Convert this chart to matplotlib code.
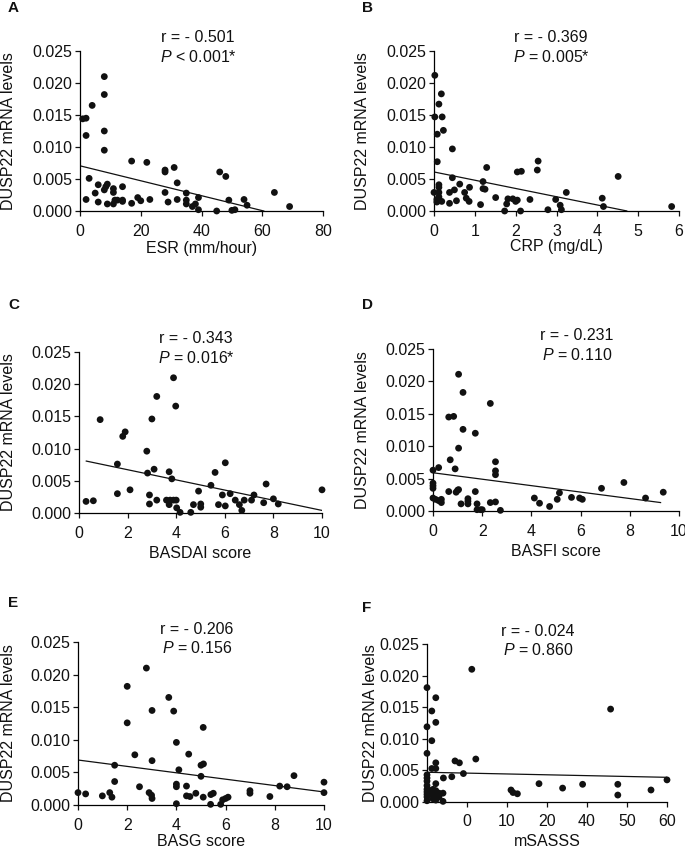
import matplotlib
matplotlib.use("Agg")
import matplotlib.pyplot as plt
import numpy as np

plt.rcParams['font.family'] = ['Liberation Sans', 'DejaVu Sans']
plt.rcParams['mathtext.fontset'] = 'custom'
plt.rcParams['mathtext.it'] = 'Liberation Sans:italic'
plt.rcParams['mathtext.rm'] = 'Liberation Sans'

# ---------------- data ----------------
esr_x = [0.9, 2, 2, 4, 8, 8, 8, 8, 2, 3, 5, 6, 6, 8, 8.5, 9, 9, 11, 11, 11, 11.5, 12.3,
         14, 14, 14, 17, 17, 19, 20, 22, 23, 28, 28, 28, 29, 31, 32, 32, 35, 35, 35, 37,
         38, 39, 39, 45, 46, 48, 49, 50, 51, 54, 55, 64, 69]
esr_y = [0.0144, 0.0145, 0.0118, 0.0165, 0.0210, 0.0182, 0.0125, 0.0095, 0.0018, 0.0051,
         0.0028, 0.0041, 0.0014, 0.0033, 0.0038, 0.0042, 0.0011, 0.0035, 0.0029, 0.0011,
         0.0017, 0.0017, 0.0038, 0.0017, 0.0015, 0.0012, 0.0078, 0.0021, 0.0016, 0.0076,
         0.0018, 0.0064, 0.0061, 0.0029, 0.0014, 0.0068, 0.0044, 0.0018, 0.0028, 0.0017,
         0.0011, 0.0007, 0.0011, 0.0021, 0.0002, 0.0000, 0.0061, 0.0054, 0.0017, 0.0001,
         0.0002, 0.0018, 0.0009, 0.0029, 0.0007]

crp_x = [0.02, 0.18, 0.12, 0.02, 0.2, 0.08, 0.23, 0.45, 0.08, 0.0, 0.12, 0.12, 0.12, 0.07,
         0.07, 0.19, 0.12, 0.38, 0.38, 0.45, 0.5, 0.55, 0.63, 0.75, 0.79, 0.86, 0.87, 1.14,
         1.2, 1.2, 1.25, 1.29, 1.51, 1.73, 1.78, 1.81, 1.93, 2.0, 2.04, 2.04, 2.14, 2.12,
         2.35, 2.53, 2.55, 2.79, 2.98, 3.09, 3.12, 3.24, 4.12, 4.15, 4.51, 5.82]
crp_y = [0.0212, 0.0183, 0.0167, 0.0147, 0.0147, 0.0120, 0.0126, 0.0097, 0.0077, 0.0029,
         0.0041, 0.0037, 0.0029, 0.0018, 0.0014, 0.0015, 0.0022, 0.0012, 0.0029, 0.0052,
         0.0033, 0.0016, 0.0042, 0.0029, 0.0020, 0.0015, 0.0037, 0.0010, 0.0046, 0.0035,
         0.0034, 0.0068, 0.0021, 0.0000, 0.0011, 0.0019, 0.0019, 0.0015, 0.0017, 0.0061,
         0.0062, 0.0000, 0.0018, 0.0064, 0.0078, 0.0002, 0.0018, 0.0009, 0.0002, 0.0029,
         0.0020, 0.0007, 0.0054, 0.0007]

basdai_x = [0.29, 0.59, 0.87, 1.58, 1.58, 1.8, 1.9, 2.1, 2.79, 2.82, 2.9, 2.9, 3.0, 3.09,
            3.2, 3.2, 3.6, 3.71, 3.71, 3.75, 3.82, 3.89, 3.89, 3.98, 4.02, 4.0, 4.16, 4.6,
            4.71, 4.92, 5.01, 5.01, 5.43, 5.6, 5.74, 5.9, 6.02, 6.02, 6.22, 6.43, 6.6, 6.7,
            6.8, 7.1, 7.2, 7.6, 7.7, 8.0, 8.2, 10.0]
basdai_y = [0.0018, 0.0019, 0.0145, 0.0030, 0.0076, 0.0119, 0.0126, 0.0036, 0.0096, 0.0062,
            0.0028, 0.0014, 0.0146, 0.0068, 0.0181, 0.0020, 0.0020, 0.0064, 0.0013, 0.0020,
            0.0053, 0.0210, 0.0020, 0.0166, 0.0008, 0.0020, 0.0001, 0.0001, 0.0013, 0.0034,
            0.0014, 0.0009, 0.0043, 0.0063, 0.0013, 0.0028, 0.0078, 0.0011, 0.0030, 0.0020,
            0.0013, 0.0004, 0.0020, 0.0020, 0.0028, 0.0016, 0.0045, 0.0022, 0.0014, 0.0036]

basfi_x = [0.0, 0.0, 0.0, 0.0, 0.0, 0.1, 0.23, 0.23, 0.34, 0.34, 0.64, 0.84, 0.64, 0.7,
           0.9, 0.94, 1.0, 1.04, 1.04, 1.04, 1.14, 1.22, 1.22, 1.42, 1.42, 1.42, 1.72, 1.72,
           1.79, 1.79, 1.93, 2.0, 2.33, 2.33, 2.54, 2.54, 2.54, 2.54, 2.74, 4.12, 4.33, 4.74,
           5.05, 5.14, 5.63, 5.96, 6.07, 6.85, 7.76, 8.64, 9.36]
basfi_y = [0.0063, 0.0043, 0.0039, 0.0035, 0.0020, 0.0018, 0.0067, 0.0016, 0.0018, 0.0013,
           0.0145, 0.0146, 0.0030, 0.0079, 0.0065, 0.0029, 0.0032, 0.0211, 0.0097, 0.0033,
           0.0011, 0.0183, 0.0126, 0.0019, 0.0015, 0.0011, 0.0120, 0.0030, 0.0011, 0.0002,
           0.0002, 0.0002, 0.0166, 0.0013, 0.0076, 0.0062, 0.0056, 0.0014, 0.0001, 0.0020,
           0.0012, 0.0007, 0.0018, 0.0028, 0.0021, 0.0020, 0.0018, 0.0035, 0.0044, 0.0020,
           0.0029]

basg_x = [0.0, 0.31, 0.99, 1.29, 1.38, 1.49, 1.49, 2.0, 2.0, 2.31, 2.5, 2.78, 2.89, 2.99,
          3.01, 3.01, 3.01, 3.69, 3.89, 4.0, 4.0, 4.0, 4.0, 4.1, 4.41, 4.41, 4.55, 4.5, 4.79,
          5.0, 5.0, 5.1, 5.09, 5.09, 5.39, 5.4, 5.5, 5.8, 5.88, 6.0, 6.1, 6.99, 6.99, 7.8,
          8.2, 8.5, 8.78, 10.0, 10.0]
basg_y = [0.0019, 0.0017, 0.0014, 0.0019, 0.0012, 0.0061, 0.0036, 0.0182, 0.0126, 0.0077,
          0.0028, 0.0210, 0.0019, 0.0015, 0.0010, 0.0145, 0.0068, 0.0165, 0.0144, 0.0096,
          0.0032, 0.0028, 0.0002, 0.0054, 0.0029, 0.0014, 0.0013, 0.0078, 0.0018, 0.0044,
          0.0061, 0.0063, 0.0119, 0.0012, 0.0001, 0.0016, 0.0018, 0.0001, 0.0008, 0.0010,
          0.0012, 0.0022, 0.0018, 0.0013, 0.0029, 0.0028, 0.0045, 0.0035, 0.0019]

# mSASSS: x in axis units (tick labels below are printed as in the source figure)
msasss_x = [-10, -7.8, -8.8, -7.8, -10, -8.8, -10, -7.8, -8.8, -7.8, -3.0, -1.9, -0.9,
            -3.8, -5.9, 1.2, 2.2, -10, -10, -10, -10, -10, -10, -10, -10, -10, -9.2, -9.2,
            -8.5, -8.5, -8.5, -7.8, -7.8, -7.8, -7.8, -7.0, -7.0, -6.0, -6.0,
            11.0, 11.5, 12.6, 18.0, 23.9, 28.9, 35.9, 37.7, 37.7, 46.0, 50.0]
msasss_y = [0.0181, 0.0165, 0.0144, 0.0126, 0.0119, 0.0097, 0.0077, 0.0062, 0.0053, 0.0053,
            0.0065, 0.0062, 0.0045, 0.0040, 0.0038, 0.0210, 0.0068, 0.0043, 0.0038, 0.0033,
            0.0026, 0.0020, 0.0016, 0.0012, 0.0008, 0.0002, 0.0018, 0.0013, 0.0020, 0.0015,
            0.0005, 0.0029, 0.0018, 0.0010, 0.0003, 0.0014, 0.0008, 0.0014, 0.0001,
            0.0019, 0.0015, 0.0013, 0.0029, 0.0022, 0.0028, 0.0147, 0.0028, 0.0011, 0.0019,
            0.0035]

# regression lines: (x start, x end, intercept, slope)
esr_fit = (0.5, 60.5, 0.00706, -0.0001167)
crp_fit = (0.0, 4.72, 0.0061, -0.00129)
basdai_fit = (0.3, 10.0, 0.0083, -0.00079)
basfi_fit = (0.0, 9.25, 0.0059, -0.000497)
basg_fit = (0.0, 10.0, 0.0069, -0.00049)
msasss_fit = (-10.0, 50.0, 0.00457, -0.0000133)

letters = ['A', 'B', 'C', 'D', 'E', 'F']
xlabels = ['ESR (mm/hour)', 'CRP (mg/dL)', 'BASDAI score', 'BASFI score', 'BASG score', 'mSASSS']
r_texts = ['r = - 0.501', 'r = - 0.369', 'r = - 0.343', 'r = - 0.231', 'r = - 0.206', 'r = - 0.024']
p_texts = [r'$\mathit{P}$ < 0.001*', r'$\mathit{P}$ = 0.005*', r'$\mathit{P}$ = 0.016*',
           r'$\mathit{P}$ = 0.110', r'$\mathit{P}$ = 0.156', r'$\mathit{P}$ = 0.860']
xticks_list = [[0, 20, 40, 60, 80], [0, 1, 2, 3, 4, 5, 6], [0, 2, 4, 6, 8, 10],
               [0, 2, 4, 6, 8, 10], [0, 2, 4, 6, 8, 10], [0, 10, 20, 30, 40, 50]]
xticklabels_list = [None, None, None, None, None, ['0', '10', '20', '40', '50', '60']]
xlims = [(0, 80), (0, 6), (0, 10), (0, 10), (0, 10), (-10, 50)]
yticks = [0.0, 0.005, 0.010, 0.015, 0.020, 0.025]
ytick_labels = ['0.000', '0.005', '0.010', '0.015', '0.020', '0.025']

xs = [esr_x, crp_x, basdai_x, basfi_x, basg_x, msasss_x]
ys = [esr_y, crp_y, basdai_y, basfi_y, basg_y, msasss_y]
fits = [esr_fit, crp_fit, basdai_fit, basfi_fit, basg_fit, msasss_fit]

# ---------------- layout (pixels) ----------------
W, H = 685, 849
boxes = [(80, 323, 51, 211), (434, 679, 51, 211),
         (79, 322, 352, 513), (433, 679, 349, 511),
         (78, 324, 642, 805), (427, 667, 644, 802)]
letter_pos = [(8, 8), (362, 8), (8, 305), (362, 305), (8, 603), (362, 608)]
text_cx = [198, 551, 196, 577, 197, 538]
ylab_base = [13, 367, 13, 367, 13, 375]
xlab_off = [37, 36, 40, 41, 37, 40]
FS = 11.5

fig = plt.figure(figsize=(W / 100, H / 100), dpi=100)

for i in range(6):
    l, r, t, b = boxes[i]
    ax = fig.add_axes([l / W, 1 - b / H, (r - l) / W, (b - t) / H])
    ax.scatter(xs[i], ys[i], s=24, color='#111111', edgecolors='none', zorder=3, clip_on=False)
    x0, x1, icpt, slope = fits[i]
    fx = np.array([x0, x1])
    ax.plot(fx, icpt + slope * fx, color='#111111', lw=0.9, zorder=2)
    ax.set_xlim(*xlims[i])
    ax.set_ylim(0, 0.025)
    ax.set_xticks(xticks_list[i])
    if xticklabels_list[i] is not None:
        ax.set_xticklabels(xticklabels_list[i])
    ax.set_yticks(yticks)
    ax.set_yticklabels(ytick_labels)
    for s in ['top', 'right']:
        ax.spines[s].set_visible(False)
    for s in ['left', 'bottom']:
        ax.spines[s].set_linewidth(0.9)
    ax.tick_params(direction='out', length=3.5, width=0.9, labelsize=FS, colors='#111111')
    ax.tick_params(axis='x', pad=5.5)
    ax.tick_params(axis='y', pad=2.2)
    wpx, hpx = r - l, b - t
    ax.set_ylabel('DUSP22 mRNA levels', fontsize=FS, color='#111111', va='baseline')
    ax.yaxis.set_label_coords(-(l - ylab_base[i]) / wpx, 0.5)
    ax.set_xlabel(xlabels[i], fontsize=FS, color='#111111', va='center')
    ax.xaxis.set_label_coords(0.5, -xlab_off[i] / hpx)
    # annotation
    cx = (text_cx[i] - l) / wpx
    ax.text(cx, 1 + 13 / hpx, r_texts[i], transform=ax.transAxes, ha='center', va='center',
            fontsize=FS, color='#111111')
    ax.text(cx, 1 - 6 / hpx, p_texts[i], transform=ax.transAxes, ha='center', va='center',
            fontsize=FS, color='#111111')
    lx, ly = letter_pos[i]
    fig.text(lx / W, 1 - ly / H, letters[i], fontsize=11, fontweight='bold',
             ha='left', va='center', color='#111111')

fig.savefig('out.png', dpi=100)
